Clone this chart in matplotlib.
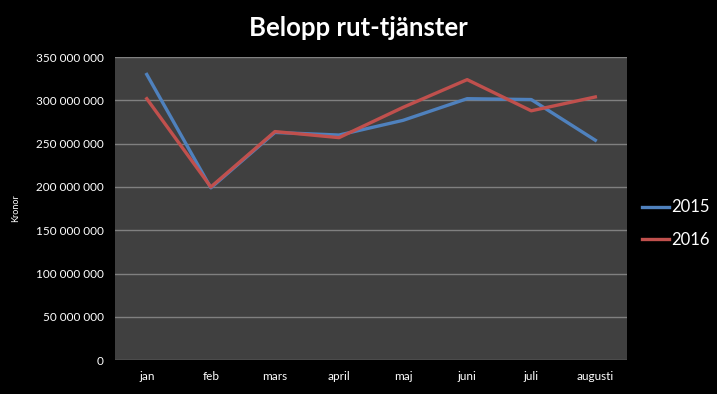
import matplotlib.pyplot as plt
from matplotlib.ticker import FuncFormatter, MultipleLocator

months = ["jan", "feb", "mars", "april", "maj", "juni", "juli", "augusti"]
kronor_2015 = [330e6, 199e6, 263e6, 260e6, 277e6, 302e6, 301e6, 254e6]
kronor_2016 = [302e6, 200e6, 264e6, 257e6, 292e6, 324e6, 288e6, 304e6]

plt.rcParams["font.family"] = ["Lato", "DejaVu Sans"]

fig = plt.figure(figsize=(7.17, 3.94), dpi=100, facecolor="black")
ax = fig.add_axes([0.160, 0.086, 0.715, 0.769])
ax.set_facecolor("#404040")

x = range(len(months))
ax.plot(x, kronor_2015, color="#4f81bd", linewidth=2.4, label="2015")
ax.plot(x, kronor_2016, color="#c0504d", linewidth=2.4, label="2016")

ax.set_xlim(-0.5, len(months) - 0.5)
ax.set_ylim(0, 350e6)
ax.yaxis.set_major_locator(MultipleLocator(50e6))
ax.yaxis.set_major_formatter(FuncFormatter(lambda v, p: f"{int(v):,}".replace(",", " ")))
ax.set_xticks(list(x))
ax.set_xticklabels(months)

ax.grid(axis="y", color="#808080", linewidth=1)
ax.set_axisbelow(True)
ax.tick_params(colors="white", labelsize=8.5, length=0, pad=8)
for side in ax.spines.values():
    side.set_visible(False)

ax.set_ylabel("Kronor", color="white", fontsize=6.5, labelpad=11)
fig.suptitle("Belopp rut-tjänster", color="white", fontsize=18.5, fontweight="bold", y=0.96)

leg = ax.legend(loc="center left", bbox_to_anchor=(1.0, 0.45), frameon=False,
                fontsize=12, handlelength=1.6, handletextpad=0.1, labelspacing=1.0)
for t in leg.get_texts():
    t.set_color("white")

fig.savefig("out.png", dpi=100, facecolor="black")
